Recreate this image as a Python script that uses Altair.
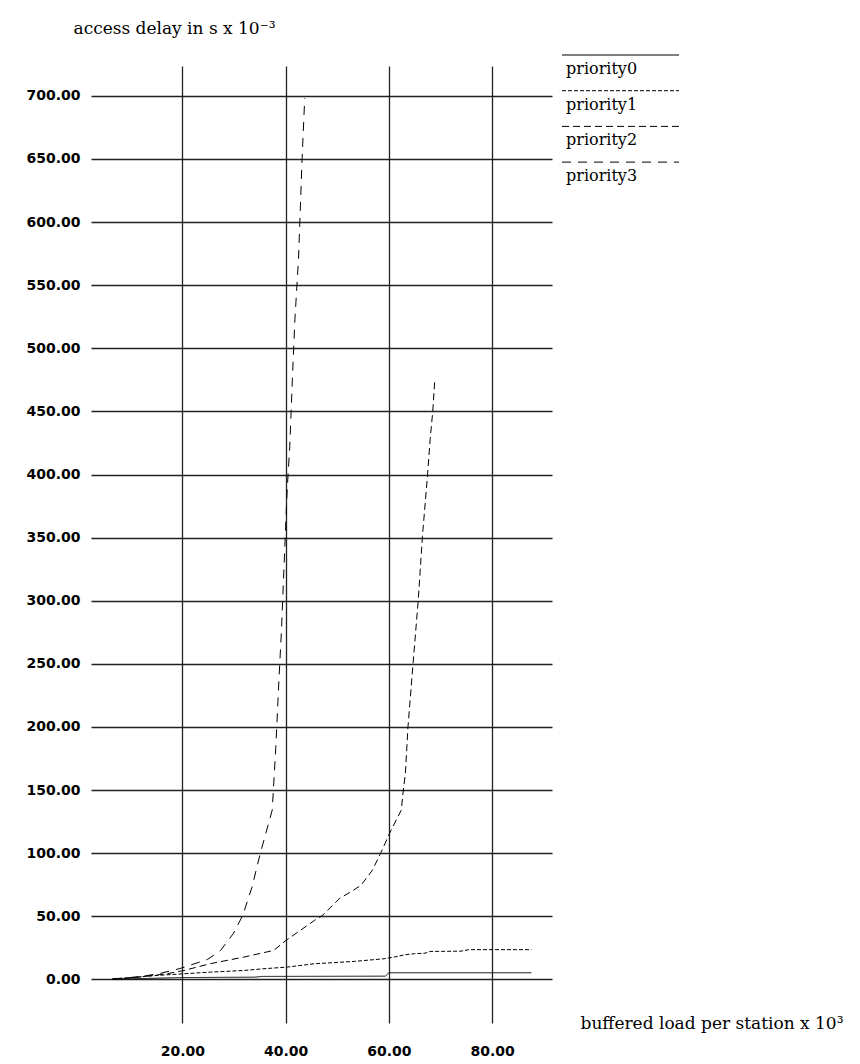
import altair as alt
import pandas as pd

series_names = ["priority0", "priority1", "priority2", "priority3"]

p0_x = [6.5, 13, 20, 34.0, 35.5, 59.3, 60.0, 87.6]
p0_y = [0.3, 0.8, 1.5, 1.8, 2.4, 2.6, 5.3, 5.3]

p1_x = [6.5, 10, 15.1, 20.3, 25.4, 31.9, 35.8, 40.3, 45.5, 53.3, 59.1, 61.0, 63.0, 65.0, 67.0, 68.0, 74.0, 75.5, 87.6]
p1_y = [0.3, 1.5, 3.2, 4.5, 5.8, 7.1, 8.5, 9.8, 12.4, 14.3, 16.4, 17.7, 19.5, 20.4, 20.8, 22.2, 22.4, 23.6, 23.6]

p2_x = [6.5, 10, 13, 17, 20.3, 25.4, 31.9, 37.7, 40.1, 45.6, 47.0, 50.5, 52.6, 54.6, 56.8, 58.4, 60.4, 62.4, 62.8,
        63.2, 63.7, 64.7, 65.7, 66.5, 67.5, 68.0, 68.5, 68.9]
p2_y = [0.5, 1.2, 2.5, 4.5, 7.1, 12.5, 17.7, 23, 31, 46.8, 50.2, 64.4, 69.3, 74.6, 86.5, 100, 118, 134, 150,
        163, 200, 251, 301, 351, 400, 428, 450, 475]

p3_x = [6.5, 10, 13, 15.7, 19.6, 24.9, 27.4, 29.9, 31.7, 33.5, 35.1, 37.4, 38.1, 38.7, 39.2, 39.8, 40.3, 40.8,
        41.3, 41.8, 42.5, 43.2, 43.7]
p3_y = [0.5, 1.5, 3, 4.8, 8.7, 15.9, 23, 36.5, 50.8, 73.3, 100, 134, 184, 237, 277, 338, 388, 422,
        475, 523, 571, 651, 698]

x_ticks = [20, 40, 60, 80]
y_ticks = [0, 50, 100, 150, 200, 250, 300, 350, 400, 450, 500, 550, 600, 650, 700]

dash_patterns = [[1, 0], [4, 2], [7, 4], [9, 7]]

rows = []
for name, xs, ys in zip(series_names, [p0_x, p1_x, p2_x, p3_x], [p0_y, p1_y, p2_y, p3_y]):
    for i, (a, b) in enumerate(zip(xs, ys)):
        rows.append({"series": name, "load": a, "delay": b, "order": i})
df = pd.DataFrame(rows)

chart = alt.Chart(df).mark_line(strokeWidth=1, color="black").encode(
    x=alt.X("load:Q",
            scale=alt.Scale(domain=[2.3, 91.6], nice=False, zero=False),
            axis=alt.Axis(values=x_ticks, format=".2f", grid=True, ticks=False, domain=False,
                          labelPadding=21, labelFont="DejaVu Sans", labelFontWeight="bold",
                          labelFontSize=14, labelColor="black",
                          title="buffered load per station x 10³",
                          titleX=489, titleY=5, titleAlign="left", titleBaseline="alphabetic",
                          titleFont="DejaVu Serif", titleFontSize=17, titleFontWeight="normal",
                          titleColor="black")),
    y=alt.Y("delay:Q",
            scale=alt.Scale(domain=[-34.5, 723.6], nice=False, zero=False),
            axis=alt.Axis(values=y_ticks, format=".2f", grid=True, ticks=False, domain=False,
                          labelPadding=11, labelFont="DejaVu Sans", labelFontWeight="bold",
                          labelFontSize=14, labelColor="black",
                          title="access delay in s x 10⁻³",
                          titleX=-18, titleY=-33, titleAngle=0, titleAlign="left",
                          titleBaseline="alphabetic",
                          titleFont="DejaVu Serif", titleFontSize=17, titleFontWeight="normal",
                          titleColor="black")),
    strokeDash=alt.StrokeDash("series:N",
                              scale=alt.Scale(domain=series_names, range=dash_patterns),
                              legend=alt.Legend(orient="none", legendX=458, legendY=-13,
                                                title=None, symbolType="M5,-6H122",
                                                symbolSize=4, symbolStrokeWidth=1,
                                                symbolStrokeColor="black",
                                                symbolFillColor="transparent",
                                                labelFont="DejaVu Serif", labelFontSize=16,
                                                labelColor="black", labelBaseline="top",
                                                labelOffset=1, rowPadding=11.7, padding=0)),
    order="order:Q",
).properties(
    width=461, height=957,
    padding={"left": 83, "top": 58, "right": 300, "bottom": 38},
    autosize=alt.AutoSizeParams(type="none"),
).configure_view(stroke=None).configure_axis(
    gridColor="#222222", gridWidth=1.3, gridOpacity=1
)

chart.save("out.html", embed_options={"renderer": "svg", "actions": False})
